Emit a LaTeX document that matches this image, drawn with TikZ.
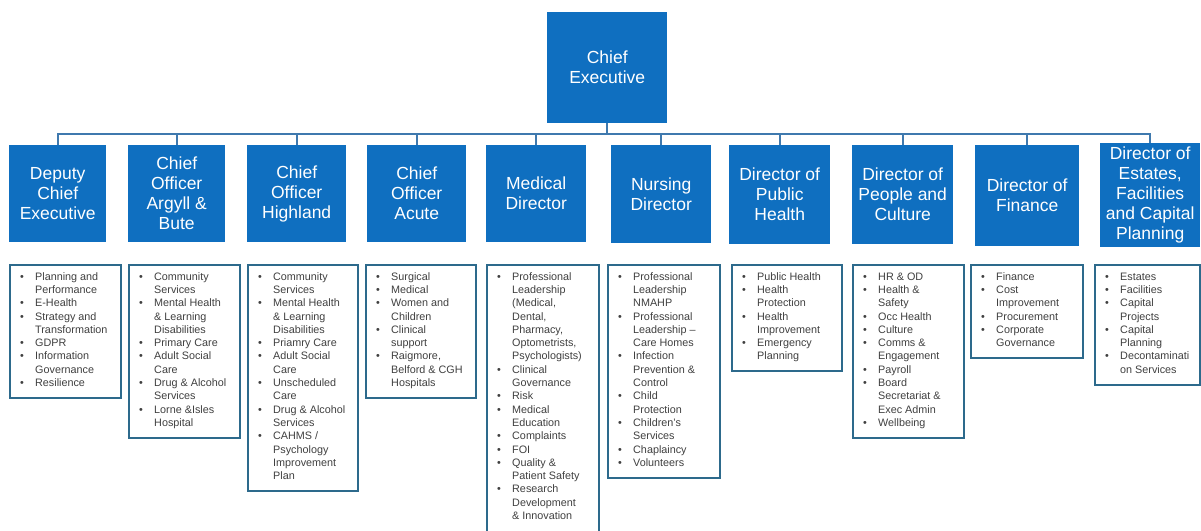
\documentclass[tikz,border=0pt]{standalone}
\usepackage{fontspec}
\setmainfont{Liberation Sans}
\definecolor{headblue}{HTML}{0F6FC0}
\definecolor{linkblue}{HTML}{3F79AE}
\definecolor{listedge}{HTML}{2D6A8C}
\definecolor{listtext}{HTML}{404040}
% one bulleted line, and a continuation line of the same item
\newcommand\itm[1]{\strut\makebox[15pt][l]{\textbullet}#1}
\newcommand\cnt[1]{\strut\hspace*{15pt}#1}
\begin{document}
\begin{tikzpicture}[x=1pt,y=-1pt,
  head/.style={fill=headblue, text=white, font=\fontsize{17.5}{20}\selectfont,
    align=center, inner sep=0pt, anchor=north west},
  listbox/.style={draw=listedge, line width=2.3pt, fill=white, inner sep=0pt,
    anchor=north west},
  listtxt/.style={text=listtext, font=\fontsize{10.8}{13.3}\selectfont,
    align=left, inner sep=0pt, anchor=north west, xshift=11pt, yshift=-6.65pt},
  conn/.style={draw=linkblue, line width=2pt}]
\useasboundingbox[fill=white] (0,0) rectangle (1201,530);

% top of the chart
\node[head, minimum width=120, minimum height=111] (ce) at (547,12) {Chief\\Executive};

% directors
\node[head, minimum width=97,  minimum height=97] (t1) at (9,145)   {Deputy\\Chief\\Executive};
\node[head, minimum width=97,  minimum height=97] (t2) at (128,145) {Chief\\Officer\\Argyll \&\\Bute};
\node[head, minimum width=99,  minimum height=97] (t3) at (247,145) {Chief\\Officer\\Highland};
\node[head, minimum width=99,  minimum height=97] (t4) at (367,145) {Chief\\Officer\\Acute};
\node[head, minimum width=100, minimum height=97] (t5) at (486,145) {Medical\\Director};
\node[head, minimum width=100, minimum height=98] (t6) at (611,145) {Nursing\\Director};
\node[head, minimum width=101, minimum height=99] (t7) at (729,145) {Director of\\Public\\Health};
\node[head, minimum width=101, minimum height=99] (t8) at (852,145) {Director of\\People and\\Culture};
\node[head, minimum width=104, minimum height=101] (t9) at (975,145) {Director of\\Finance};
\node[head, minimum width=100, minimum height=104] (t10) at (1100,143) {Director of\\Estates,\\Facilities\\and Capital\\Planning};

% reporting lines
\foreach \t in {t1,t2,t3,t4,t5,t6,t7,t8,t9,t10}
  \draw[conn] (ce.south) -- ++(0,11) -| (\t.north);

% portfolios
\node[listbox, minimum width=111, minimum height=133] (l1) at (9,264) {};
\node[listtxt] (p1) at (l1.north west) {\itm{Planning and}\\\cnt{Performance}\\\itm{E-Health}\\\itm{Strategy and}\\\cnt{Transformation}\\\itm{GDPR}\\\itm{Information}\\\cnt{Governance}\\\itm{Resilience}};

\node[listbox, minimum width=111, minimum height=173] (l2) at (128,264) {};
\node[listtxt] (p2) at (l2.north west) {\itm{Community}\\\cnt{Services}\\\itm{Mental Health}\\\cnt{\& Learning}\\\cnt{Disabilities}\\\itm{Primary Care}\\\itm{Adult Social}\\\cnt{Care}\\\itm{Drug \& Alcohol}\\\cnt{Services}\\\itm{Lorne \&Isles}\\\cnt{Hospital}};

\node[listbox, minimum width=110, minimum height=226] (l3) at (247,264) {};
\node[listtxt] (p3) at (l3.north west) {\itm{Community}\\\cnt{Services}\\\itm{Mental Health}\\\cnt{\& Learning}\\\cnt{Disabilities}\\\itm{Priamry Care}\\\itm{Adult Social}\\\cnt{Care}\\\itm{Unscheduled}\\\cnt{Care}\\\itm{Drug \& Alcohol}\\\cnt{Services}\\\itm{CAHMS /}\\\cnt{Psychology}\\\cnt{Improvement}\\\cnt{Plan}};

\node[listbox, minimum width=110, minimum height=133] (l4) at (365,264) {};
\node[listtxt] (p4) at (l4.north west) {\itm{Surgical}\\\itm{Medical}\\\itm{Women and}\\\cnt{Children}\\\itm{Clinical}\\\cnt{support}\\\itm{Raigmore,}\\\cnt{Belford \& CGH}\\\cnt{Hospitals}};

\node[listbox, minimum width=112, minimum height=274] (l5) at (486,264) {};
\node[listtxt] (p5) at (l5.north west) {\itm{Professional}\\\cnt{Leadership}\\\cnt{(Medical,}\\\cnt{Dental,}\\\cnt{Pharmacy,}\\\cnt{Optometrists,}\\\cnt{Psychologists)}\\\itm{Clinical}\\\cnt{Governance}\\\itm{Risk}\\\itm{Medical}\\\cnt{Education}\\\itm{Complaints}\\\itm{FOI}\\\itm{Quality \&}\\\cnt{Patient Safety}\\\itm{Research}\\\cnt{Development}\\\cnt{\& Innovation}};

\node[listbox, minimum width=112, minimum height=213] (l6) at (607,264) {};
\node[listtxt] (p6) at (l6.north west) {\itm{Professional}\\\cnt{Leadership}\\\cnt{NMAHP}\\\itm{Professional}\\\cnt{Leadership –}\\\cnt{Care Homes}\\\itm{Infection}\\\cnt{Prevention \&}\\\cnt{Control}\\\itm{Child}\\\cnt{Protection}\\\itm{Children’s}\\\cnt{Services}\\\itm{Chaplaincy}\\\itm{Volunteers}};

\node[listbox, minimum width=110, minimum height=106] (l7) at (731,264) {};
\node[listtxt] (p7) at (l7.north west) {\itm{Public Health}\\\itm{Health}\\\cnt{Protection}\\\itm{Health}\\\cnt{Improvement}\\\itm{Emergency}\\\cnt{Planning}};

\node[listbox, minimum width=111, minimum height=173] (l8) at (852,264) {};
\node[listtxt] (p8) at (l8.north west) {\itm{HR \& OD}\\\itm{Health \&}\\\cnt{Safety}\\\itm{Occ Health}\\\itm{Culture}\\\itm{Comms \&}\\\cnt{Engagement}\\\itm{Payroll}\\\itm{Board}\\\cnt{Secretariat \&}\\\cnt{Exec Admin}\\\itm{Wellbeing}};

\node[listbox, minimum width=112, minimum height=93] (l9) at (970,264) {};
\node[listtxt] (p9) at (l9.north west) {\itm{Finance}\\\itm{Cost}\\\cnt{Improvement}\\\itm{Procurement}\\\itm{Corporate}\\\cnt{Governance}};

\node[listbox, minimum width=105, minimum height=120] (l10) at (1094,264) {};
\node[listtxt] (p10) at (l10.north west) {\itm{Estates}\\\itm{Facilities}\\\itm{Capital}\\\cnt{Projects}\\\itm{Capital}\\\cnt{Planning}\\\itm{Decontaminati}\\\cnt{on Services}};
\end{tikzpicture}
\end{document}
